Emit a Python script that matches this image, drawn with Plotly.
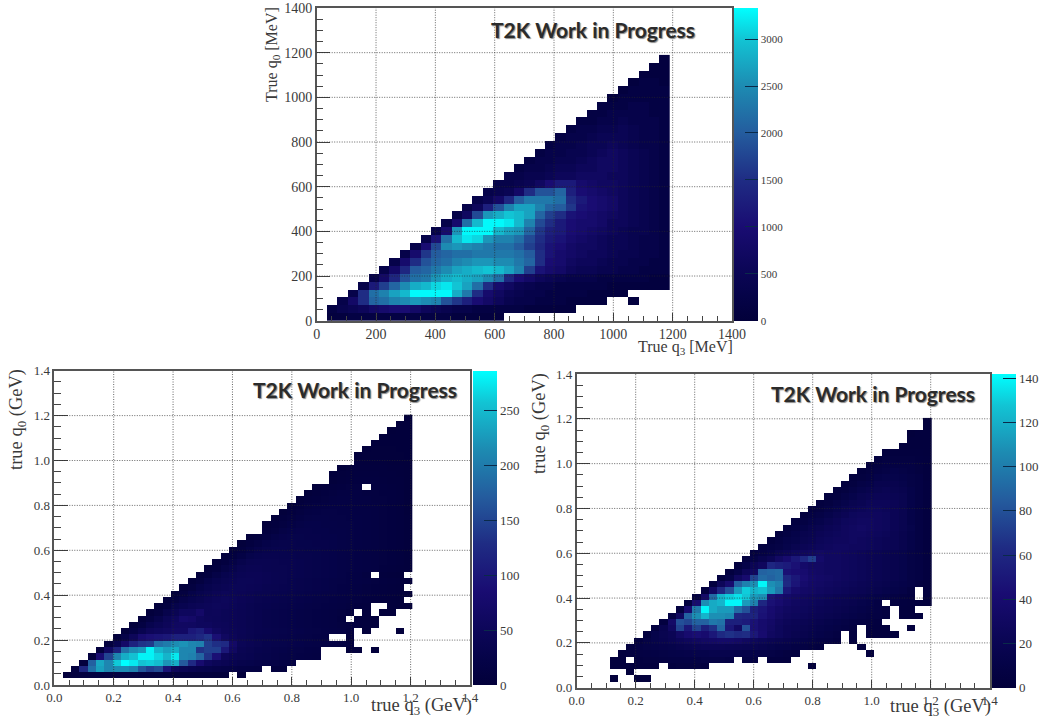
import plotly.graph_objects as go

_ = None
W, H = 1047, 726

# ---------- data: counts per bin, row by row from q0 = 0 upward ----------
TOP_BIN = 35.0          # MeV
TOP_SCALE = 100         # values below are in hundreds
TOP_ROWS = [
 [_]+[1,1,2,2,2,2,2,2,2,2,2,2,1,1,1,1,1],
 [_]+[2,4,5,6,8,9,10,10,8,6,5,4,3,3,2,2,2,2,2,1,1,1,1,1],
 [_]*2+[3,8,15,21,22,24,25,26,25,24,19,16,13,10,8,6,4,3,3,2,2,2,1,1,1,1,_,_,1],
 [_]*3+[3,15,22,24,27,29,33,33,33,33,28,23,15,9,7,5,4,3,3,2,2,2,2,1,1,1,1],
 [_]*4+[3,12,17,21,25,28,29,31,32,30,27,22,15,9,7,5,4,3,3,2,2,2,2,2,1,1,1,1,1,1],
 [_]*5+[3,8,14,19,22,23,26,28,29,28,27,25,22,14,10,8,6,5,4,3,3,3,2,2,2,2,2,1,1],
 [_]*6+[3,8,14,20,21,23,25,27,28,29,30,29,27,24,17,11,9,8,6,5,5,4,4,3,3,2,2,2],
 [_]*7+[3,9,15,19,21,22,24,25,26,26,25,25,23,21,15,10,9,7,6,6,5,4,4,3,3,2,2],
 [_]*8+[3,9,16,20,21,22,22,23,23,23,23,22,20,15,11,9,8,7,6,6,5,4,4,3,3,2],
 [_]*9+[3,10,18,25,26,25,24,23,22,22,20,17,14,11,10,8,7,7,6,5,5,4,3,3,2],
 [_]*10+[3,11,22,29,32,31,26,24,24,22,18,15,12,11,9,8,7,6,5,5,4,3,3,2],
 [_]*11+[3,9,26,33,33,33,29,27,26,21,16,13,12,10,9,8,7,6,5,4,4,3,2],
 [_]*12+[3,9,22,29,33,33,32,29,24,18,15,12,10,9,9,8,6,6,5,4,3,2],
 [_]*13+[3,7,18,26,28,30,29,27,21,17,15,11,10,9,8,7,6,5,4,3,2],
 [_]*14+[3,6,13,19,24,27,27,24,21,20,16,11,10,9,8,6,5,4,3,2],
 [_]*15+[3,5,8,14,20,23,23,23,22,15,12,10,9,8,6,5,4,3,2],
 [_]*16+[3,4,5,8,15,19,19,21,13,10,9,8,7,6,5,4,3,2],
 [_]*17+[3,3,4,5,7,10,12,12,9,8,7,7,6,5,4,3,2],
 [_]*18+[3,3,4,4,5,6,6,7,7,7,6,6,5,4,3,2],
 [_]*19+[2,3,3,4,5,5,6,6,7,7,6,5,4,3,2],
 [_]*20+[2,3,3,4,4,5,6,7,7,6,5,4,3,2],
 [_]*21+[2,3,3,4,4,5,6,7,6,5,4,3,2],
 [_]*22+[2,3,3,4,5,5,6,5,4,3,3,2],
 [_]*23+[2,3,3,4,5,5,5,4,3,3,2],
 [_]*24+[2,3,3,4,4,5,4,3,3,2],
 [_]*25+[2,2,3,3,4,3,3,3,2],
 [_]*26+[2,2,3,3,3,3,2,2],
 [_]*27+[2,2,2,3,3,2,2],
 [_]*28+[1,2,2,2,2,2],
 [_]*29+[1,2,2,2,2],
 [_]*30+[1,2,2,1],
 [_]*31+[1,1,1],
 [_]*32+[1,1],
 [_]*33+[1],
]

LEFT_BIN = 0.028        # GeV
LEFT_ROWS = [
 [],
 [_]+[4,8,10,10,10,12,12,12,12,10,10,10,8,8,8,7,6,6,5,5,_,3],
 [_]*2+[8,120,190,230,210,215,215,205,165,145,155,95,50,40,35,30,28,25,22,20,18,16,14,_,8,8],
 [_]*3+[7,175,235,210,260,285,275,255,260,250,220,240,170,125,80,55,45,40,35,30,28,25,22,20,18,16],
 [_]*4+[7,85,150,210,240,255,280,280,265,245,275,210,205,180,135,90,50,42,38,35,30,28,25,22,20,18,16,14],
 [_]*5+[6,60,115,190,215,225,280,245,230,240,210,210,135,145,145,100,60,40,36,32,30,26,24,22,20,18,16,_,_,_,5,5,_,3],
 [_]*6+[6,35,70,115,135,140,190,200,215,220,210,205,145,130,125,68,45,40,36,32,30,28,26,24,22,20,18,16,14,10],
 [_]*7+[5,25,50,80,90,95,100,112,112,112,122,135,90,60,48,40,36,32,30,28,26,24,22,20,18,16,_,_,5],
 [_]*8+[5,18,35,50,55,60,65,65,100,110,80,60,50,45,42,38,34,32,30,28,26,24,22,20,18,16,14,10,_,5,_,_,_,4],
 [_]*9+[5,15,32,42,50,60,62,60,55,55,50,48,44,40,36,34,30,28,26,24,22,20,18,16,14,12,10,8,6,5],
 [_]*10+[5,14,30,45,55,75,70,55,50,48,45,44,40,36,34,30,28,26,24,22,20,18,16,14,10,_,6,6,5],
 [_]*11+[5,12,30,40,55,55,70,48,50,46,44,40,38,34,30,28,26,24,22,20,18,16,14,12,8,_,6,_,4,4],
 [_]*12+[5,12,28,35,42,45,48,52,50,46,42,38,34,32,30,28,26,24,22,20,18,16,14,12,8,6,_,_,5,4,4],
 [_]*13+[5,12,25,32,36,44,48,52,48,44,40,36,34,32,30,28,26,24,22,20,18,16,14,12,10,8,6,5,4],
 [_]*14+[5,12,24,32,38,44,48,46,44,40,38,36,34,32,30,28,26,24,22,20,18,16,14,12,10,8,6,5,4],
 [_]*15+[5,12,24,32,38,42,46,46,44,42,38,36,34,32,30,28,26,24,22,18,16,14,12,10,8,6,5],
 [_]*16+[5,12,24,32,38,42,46,46,44,40,38,36,32,30,28,26,24,22,20,18,16,14,12,10,8,6,5],
 [_]*17+[5,10,22,32,38,42,44,44,40,38,36,34,32,30,28,26,24,22,18,16,12,_,6,5,4],
 [_]*18+[5,10,20,30,38,40,40,38,36,36,34,32,30,28,26,24,22,20,18,16,14,10,8,6,5],
 [_]*19+[5,10,20,30,36,38,38,36,34,34,32,30,28,26,24,22,20,18,16,14,12,10,8,5],
 [_]*20+[5,10,18,28,32,34,34,32,32,30,30,28,26,24,22,20,18,16,14,12,10,8,5],
 [_]*21+[5,10,18,26,30,32,32,30,30,28,28,26,24,22,20,18,16,14,12,10,8,5],
 [_]*22+[4,10,16,24,28,30,30,28,28,26,26,24,22,20,18,16,14,12,10,8,5],
 [_]*23+[4,8,14,22,26,28,28,26,26,24,24,22,20,18,16,14,12,10,8,5],
 [_]*25+[8,12,20,24,26,26,24,24,22,22,20,18,16,14,12,10,8,5],
 [_]*25+[4,8,12,18,22,24,24,22,22,20,20,18,16,14,12,10,8,5],
 [_]*26+[4,8,12,16,20,22,22,20,20,18,18,16,14,12,10,8,5],
 [_]*27+[4,8,12,16,18,20,20,18,18,16,16,14,12,10,8,4],
 [_]*28+[4,8,12,14,16,18,18,16,16,14,14,12,10,8,4],
 [_]*29+[4,8,10,12,14,16,16,14,14,12,12,10,8,4],
 [_]*30+[4,6,10,12,14,14,14,12,12,10,10,8,4],
 [_]*31+[4,6,8,10,12,12,_,10,10,8,6,4],
 [_]*33+[4,6,8,10,10,10,8,6,6,4],
 [_]*33+[3,5,6,8,8,8,6,6,5,4],
 [_]*34+[3,5,6,6,6,6,5,5,4],
 [_]*36+[5,5,5,5,4,4,4],
 [_]*36+[3,4,4,4,4,4,3],
 [_]*37+[3,4,4,4,3,3],
 [_]*38+[3,3,3,3,3],
 [_]*39+[3,3,3,3],
 [_]*40+[2,3,3],
 [_]*41+[2,3],
 [_]*42+[2],
]

RIGHT_BIN = 0.028       # GeV
RIGHT_ROWS = [
 [],
 [_]*4+[2,_,_,2,2],
 [_]*6+[2],
 [_]*4+[3,3,3,4,4,4,_,5,6,6,6,5,_,_,_,_,_,_,_,_,_,_,_,_,2],
 [_]*4+[3,4,_,5,6,6,7,8,8,9,9,10,10,10,9,_,8,7,_,5,5,4],
 [_]*5+[4,6,7,8,9,10,11,12,13,14,14,15,15,15,14,13,12,11,10,8,6,5,_,_,_,_,_,_,_,_,3],
 [_]*6+[4,8,10,11,13,14,16,18,20,22,22,22,21,20,19,18,16,14,12,11,9,8,6,5,_,_,_,_,3],
 [_]*7+[5,10,14,17,20,24,27,30,32,34,36,36,34,30,26,23,20,18,16,14,12,10,8,7,5,_,4],
 [_]*8+[5,14,18,22,32,40,44,40,50,62,66,62,64,50,40,30,26,22,18,16,14,12,10,7,_,5,_,4,4,4,3],
 [_]*9+[5,16,30,74,50,74,55,66,90,50,32,80,45,38,32,26,22,20,18,16,14,12,10,8,6,_,5,4,4,_,_,3],
 [_]*10+[5,35,80,75,88,88,98,95,55,55,52,46,38,34,28,24,22,20,18,16,14,12,10,8,7,6,5],
 [_]*11+[8,30,88,108,122,108,108,105,60,58,58,46,38,32,28,26,24,22,20,18,16,14,12,10,8,7,6,_,4,4,3],
 [_]*12+[5,40,98,140,118,112,112,92,80,55,48,40,34,30,28,26,24,22,20,18,16,14,12,10,8,6,_,4,3],
 [_]*13+[5,40,108,118,122,140,140,112,102,60,45,40,34,30,28,26,24,22,20,18,16,14,12,8,_,6,5,4,4,3],
 [_]*14+[5,35,92,122,130,135,128,112,108,48,42,36,32,30,28,26,24,22,20,18,16,14,12,10,8,6,5,_,3],
 [_]*15+[5,30,60,80,112,130,122,126,112,98,50,38,34,32,30,28,26,24,22,20,18,16,14,12,10,6,_,4],
 [_]*16+[5,25,40,88,102,108,140,108,102,62,48,38,34,32,30,28,26,24,22,20,18,16,14,12,10,6,4],
 [_]*17+[5,12,30,40,74,92,88,92,60,50,42,36,34,32,30,28,26,24,22,20,18,16,14,10,8,5],
 [_]*18+[5,12,25,30,88,90,92,45,42,40,34,32,30,30,28,26,24,22,20,18,16,14,10,8,5],
 [_]*19+[5,12,22,28,60,55,52,45,36,32,32,30,30,28,26,24,22,20,18,16,14,10,8,5],
 [_]*20+[5,10,16,22,32,40,50,60,72,36,30,30,28,26,24,22,20,18,16,14,10,8,5],
 [_]*21+[5,8,12,18,22,26,28,30,32,30,30,28,26,24,22,20,18,16,14,10,8,5],
 [_]*22+[5,8,10,14,18,22,24,26,28,30,30,28,28,26,24,22,20,16,12,8,5],
 [_]*23+[5,8,12,14,18,20,24,26,28,28,30,28,26,24,22,20,16,12,8,5],
 [_]*24+[5,8,12,16,18,22,24,26,28,30,30,28,26,24,20,16,12,8,5],
 [_]*25+[5,8,12,16,18,22,24,28,30,32,30,28,26,22,18,14,8,5],
 [_]*26+[5,8,12,14,18,22,26,28,30,30,28,26,22,18,12,8,5],
 [_]*27+[5,8,10,14,18,22,26,28,28,28,26,22,18,12,8,5],
 [_]*28+[5,6,10,14,18,22,24,26,26,24,22,18,12,8,5],
 [_]*29+[4,6,10,14,18,20,24,24,24,22,18,12,8,5],
 [_]*30+[4,6,10,14,18,20,22,22,20,18,12,8,5],
 [_]*31+[4,6,10,14,16,18,20,18,16,12,8,5],
 [_]*32+[4,6,10,12,16,16,16,14,10,8,5],
 [_]*33+[4,6,8,12,14,14,12,10,8,4],
 [_]*34+[4,6,8,10,12,10,8,6,4],
 [_]*35+[4,6,8,8,8,8,6,4],
 [_]*36+[4,6,6,6,6,5,4],
 [_]*37+[3,4,4,4,4,3],
 [_]*39+[3,3,3,3],
 [_]*40+[3,3,3],
 [_]*40+[2,3,3],
 [_]*42+[2],
 [_]*42+[2],
]

TOP_TICKS = [0, 200, 400, 600, 800, 1000, 1200, 1400]
GEV_TICKS = [0.0, 0.2, 0.4, 0.6, 0.8, 1.0, 1.2, 1.4]
TOP_CB_TICKS = [0, 500, 1000, 1500, 2000, 2500, 3000]
LEFT_CB_TICKS = [0, 50, 100, 150, 200, 250]
RIGHT_CB_TICKS = [0, 20, 40, 60, 80, 100, 120, 140]

COLORS = [[0.0, "#02003a"], [0.08, "#050348"], [0.17, "#0c0658"], [0.3, "#190c72"],
          [0.45, "#1f2c84"], [0.6, "#245c9e"], [0.75, "#1d8bb2"], [0.9, "#12c4d4"], [1.0, "#00ffff"]]

SERIF = "Liberation Serif"
INK = "#3a3a3a"

PANELS = [
 dict(rows=TOP_ROWS, scale=TOP_SCALE, bin=TOP_BIN, n=34, ticks=TOP_TICKS, minor=50, fmt="d",
      box=(316.7, 732, 8, 320.7), cb=(734, 24), zmax=3334, cbticks=TOP_CB_TICKS, cbsize=11,
      fs=14, xt="True q<sub>3</sub> [MeV]", yt="True q<sub>0</sub> [MeV]", tsize=16,
      xtpos=(685, 347), ytpos=(272, 55), t2k=(593, 29), ylen=14),
 dict(rows=LEFT_ROWS, scale=1, bin=LEFT_BIN, n=43, ticks=GEV_TICKS, minor=0.05, fmt=".1f",
      box=(54.3, 470, 370.7, 685), cb=(472.7, 24), zmax=285.7, cbticks=LEFT_CB_TICKS, cbsize=13,
      fs=13, xt="true q<sub>3</sub> (GeV)", yt="true q<sub>0</sub> (GeV)", tsize=18.5,
      xtpos=(421, 706), ytpos=(18, 420), t2k=(355, 389), ylen=14),
 dict(rows=RIGHT_ROWS, scale=1, bin=RIGHT_BIN, n=43, ticks=GEV_TICKS, minor=0.05, fmt=".1f",
      box=(576.7, 989.7, 374, 687.7), cb=(991.7, 24), zmax=142, cbticks=RIGHT_CB_TICKS, cbsize=13,
      fs=13, xt="true q<sub>3</sub> (GeV)", yt="true q<sub>0</sub> (GeV)", tsize=18.5,
      xtpos=(940, 707), ytpos=(540, 424), t2k=(873, 393), ylen=14),
]

def fx(px):
    return px / W

def fy(py):
    return 1 - py / H

fig = go.Figure()
layout = dict(width=W, height=H, margin=dict(l=0, r=0, t=0, b=0, autoexpand=False), autosize=False,
              paper_bgcolor="white", plot_bgcolor="white", showlegend=False,
              font=dict(family=SERIF, color=INK))
shapes, notes = [], []

for k, p in enumerate(PANELS):
    sfx = "" if k == 0 else str(k + 1)
    x0, x1, y0, y1 = p["box"]
    centers = [(i + 0.5) * p["bin"] for i in range(p["n"])]
    z = []
    for row in p["rows"]:
        full = (row + [None] * p["n"])[:p["n"]]
        z.append([None if v is None else v * p["scale"] for v in full])
    fig.add_trace(go.Heatmap(
        x=centers, y=centers[:len(z)], z=z, xaxis="x" + sfx, yaxis="y" + sfx,
        zmin=0, zmax=p["zmax"], colorscale=COLORS, hoverongaps=False,
        colorbar=dict(x=fx(p["cb"][0]), xanchor="left", xref="paper", xpad=0, ypad=0,
                      y=fy(y1), yanchor="bottom", yref="paper",
                      len=(y1 - y0) / H, lenmode="fraction",
                      thickness=p["cb"][1], thicknessmode="pixels",
                      tickvals=p["cbticks"], ticks="inside", ticklen=13, tickwidth=1.2,
                      tickcolor="#0a2a4a", outlinewidth=0, borderwidth=0,
                      tickfont=dict(family=SERIF, size=p["cbsize"], color=INK))))
    span = p["ticks"][-1]
    axis_common = dict(range=[0, span], tickvals=p["ticks"], ticks="inside", showgrid=False,
                       zeroline=False, showline=True, mirror=True, linecolor="#555555",
                       linewidth=1.5, tickcolor="#444444", tickwidth=1.2,
                       tickformat=p["fmt"], layer="above traces",
                       tickfont=dict(family=SERIF, size=p["fs"], color=INK))
    layout["xaxis" + sfx] = dict(axis_common, domain=[fx(x0), fx(x1)], anchor="y" + sfx, ticklen=8,
                                 minor=dict(dtick=p["minor"], ticks="inside", ticklen=5,
                                            tickcolor="#444444", tickwidth=1, showgrid=False))
    layout["yaxis" + sfx] = dict(axis_common, domain=[fy(y1), fy(y0)], anchor="x" + sfx,
                                 ticklen=p["ylen"],
                                 minor=dict(dtick=p["minor"], ticks="inside", ticklen=7,
                                            tickcolor="#444444", tickwidth=1, showgrid=False))
    for t in p["ticks"][1:-1]:
        dash = dict(color="rgba(40,40,40,0.7)", width=1, dash="1px,1.5px")
        shapes.append(dict(type="line", layer="above", xref="x" + sfx, yref="y" + sfx,
                           x0=t, x1=t, y0=0, y1=span, line=dash))
        shapes.append(dict(type="line", layer="above", xref="x" + sfx, yref="y" + sfx,
                           x0=0, x1=span, y0=t, y1=t, line=dash))
    notes.append(dict(text=p["xt"], xref="paper", yref="paper", x=fx(p["xtpos"][0]), y=fy(p["xtpos"][1]),
                      showarrow=False, xanchor="center", yanchor="middle",
                      font=dict(family=SERIF, size=p["tsize"], color=INK)))
    notes.append(dict(text=p["yt"], xref="paper", yref="paper", x=fx(p["ytpos"][0]), y=fy(p["ytpos"][1]),
                      showarrow=False, xanchor="center", yanchor="middle", textangle=-90,
                      font=dict(family=SERIF, size=p["tsize"], color=INK)))
    notes.append(dict(text="<b>T2K Work in Progress</b>", xref="paper", yref="paper",
                      x=fx(p["t2k"][0]), y=fy(p["t2k"][1]), showarrow=False,
                      xanchor="center", yanchor="middle",
                      font=dict(family="Lato", size=21, color="#2b2b2b",
                                shadow="1px 1px 1px #8a8a8a")))

fig.update_layout(shapes=shapes, annotations=notes, **layout)
fig.write_html("out.html", config=dict(displayModeBar=False),
               post_script="document.body.style.margin='0';document.body.style.overflow='hidden';")
